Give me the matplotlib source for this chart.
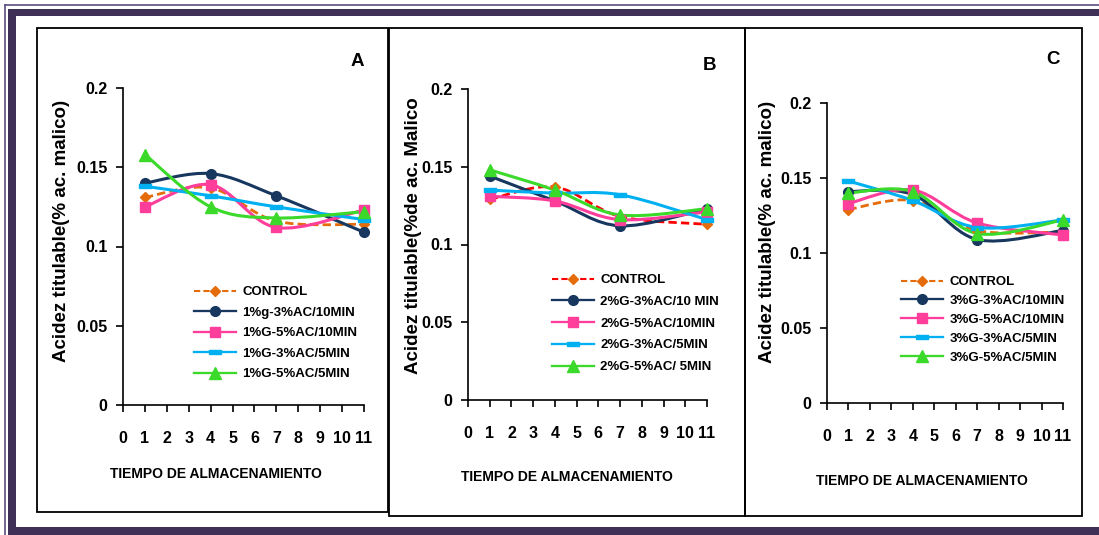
import matplotlib
matplotlib.use("Agg")
import matplotlib.pyplot as plt
from matplotlib.path import Path
from matplotlib.patches import PathPatch, Rectangle
from matplotlib.lines import Line2D

# storage days
dias = [1, 4, 7, 11]

# panel A - 1% G
a_control = [0.131, 0.137, 0.116, 0.114]
a_3ac_10 = [0.140, 0.146, 0.132, 0.109]
a_5ac_10 = [0.125, 0.139, 0.112, 0.123]
a_3ac_5 = [0.138, 0.132, 0.125, 0.117]
a_5ac_5 = [0.158, 0.125, 0.118, 0.122]

# panel B - 2% G
b_control = [0.129, 0.137, 0.118, 0.113]
b_3ac_10 = [0.144, 0.128, 0.112, 0.123]
b_5ac_10 = [0.131, 0.128, 0.116, 0.121]
b_3ac_5 = [0.135, 0.133, 0.132, 0.116]
b_5ac_5 = [0.148, 0.135, 0.119, 0.123]

# panel C - 3% G
c_control = [0.129, 0.135, 0.115, 0.114]
c_3ac_10 = [0.141, 0.139, 0.109, 0.115]
c_5ac_10 = [0.133, 0.142, 0.120, 0.112]
c_3ac_5 = [0.148, 0.135, 0.117, 0.122]
c_5ac_5 = [0.140, 0.141, 0.113, 0.122]

a_labels = ["CONTROL", "1%g-3%AC/10MIN", "1%G-5%AC/10MIN", "1%G-3%AC/5MIN", "1%G-5%AC/5MIN"]
b_labels = ["CONTROL", "2%G-3%AC/10 MIN", "2%G-5%AC/10MIN", "2%G-3%AC/5MIN", "2%G-5%AC/ 5MIN"]
c_labels = ["CONTROL", "3%G-3%AC/10MIN", "3%G-5%AC/10MIN", "3%G-3%AC/5MIN", "3%G-5%AC/5MIN"]

W, H = 1099, 535
FONT = "Liberation Sans"

ORANGE = "#e46c0a"
NAVY = "#17375e"
PINK = "#ff3d9a"
SKY = "#00b0f0"
GREEN = "#3ad92a"

dash_marker = [(-1, -0.3), (1, -0.3), (1, 0.3), (-1, 0.3), (-1, -0.3)]


def smooth_path(x, y):
    # bezier through the points, catmull-rom style (spreadsheet smoothed lines)
    pts = list(zip(x, y))
    verts = [pts[0]]
    codes = [Path.MOVETO]
    n = len(pts)
    for i in range(n - 1):
        p0 = pts[i - 1] if i > 0 else pts[i]
        p1 = pts[i]
        p2 = pts[i + 1]
        p3 = pts[i + 2] if i + 2 < n else pts[i + 1]
        c1 = (p1[0] + (p2[0] - p0[0]) / 6, p1[1] + (p2[1] - p0[1]) / 6)
        c2 = (p2[0] - (p3[0] - p1[0]) / 6, p2[1] - (p3[1] - p1[1]) / 6)
        verts += [c1, c2, p2]
        codes += [Path.CURVE4] * 3
    return Path(verts, codes)


def px_axes(fig, x0, x1, y0, y1):
    return fig.add_axes([x0 / W, 1 - y1 / H, (x1 - x0) / W, (y1 - y0) / H])


def panel(fig, box, series, labels, control_line, leg, spacing):
    ax = px_axes(fig, *box)
    styles = [
        dict(color=control_line, ls=(0, (3, 1.5)), lw=2.0, marker="D", ms=5.5, mc=ORANGE),
        dict(color=NAVY, ls="-", lw=2.2, marker="o", ms=7, mc=NAVY),
        dict(color=PINK, ls="-", lw=2.2, marker="s", ms=7, mc=PINK),
        dict(color=SKY, ls="-", lw=2.2, marker=dash_marker, ms=8, mc=SKY),
        dict(color=GREEN, ls="-", lw=2.2, marker="^", ms=8, mc=GREEN),
    ]
    handles = []
    for vals, st in zip(series, styles):
        ax.add_patch(PathPatch(smooth_path(dias, vals), fill=False, edgecolor=st["color"],
                               lw=st["lw"], linestyle=st["ls"], clip_on=False, capstyle="butt"))
        ax.plot(dias, vals, ls="none", marker=st["marker"], ms=st["ms"], color=st["mc"],
                mec=st["mc"], clip_on=False)
        handles.append(Line2D([], [], color=st["color"], ls=st["ls"], lw=st["lw"] * 0.75,
                              marker=st["marker"], ms=st["ms"], mfc=st["mc"], mec=st["mc"]))

    ax.set_xlim(0, 11)
    ax.set_ylim(0, 0.2)
    ax.set_xticks(range(12))
    ax.set_yticks([0, 0.05, 0.1, 0.15, 0.2])
    ax.set_yticklabels(["0", "0.05", "0.1", "0.15", "0.2"])
    for s in ["top", "right"]:
        ax.spines[s].set_visible(False)
    for s in ["left", "bottom"]:
        ax.spines[s].set_linewidth(1.2)
    ax.tick_params(axis="both", direction="out", length=5, width=1.2)
    ax.tick_params(axis="x", pad=14)
    ax.tick_params(axis="y", pad=6)
    for t in ax.get_xticklabels() + ax.get_yticklabels():
        t.set_fontfamily(FONT)
        t.set_fontweight("bold")
        t.set_fontsize(11.5)
    ax.patch.set_alpha(0)

    lx, ly = leg
    ax.legend(handles, labels, loc="upper left",
              bbox_to_anchor=(lx / W, 1 - ly / H), bbox_transform=fig.transFigure,
              frameon=False, handlelength=3.2, handletextpad=0.45, labelspacing=spacing,
              borderpad=0, borderaxespad=0,
              prop=dict(family=FONT, weight="bold", size=9.5))
    return ax


fig = plt.figure(figsize=(W / 100, H / 100), dpi=100)

# page frame and panel boxes drawn in pixel coordinates
bg = fig.add_axes([0, 0, 1, 1])
bg.set_xlim(0, W)
bg.set_ylim(H, 0)
bg.axis("off")
bg.set_zorder(-1)
FRAME = "#3f3058"
bg.add_patch(Rectangle((8, 9), 8, H - 9, color=FRAME, lw=0))
bg.add_patch(Rectangle((8, 9), W - 8, 7, color=FRAME, lw=0))
bg.add_patch(Rectangle((8, 527), W - 8, 8, color=FRAME, lw=0))
bg.plot([5, 5], [5, H], color="#5c4d7a", lw=1.2)
bg.plot([5, W], [5, 5], color="#5c4d7a", lw=1.2)
for x0, x1, y1 in [(37, 388, 512), (389, 745, 516), (745, 1082, 516)]:
    bg.add_patch(Rectangle((x0, 28), x1 - x0, y1 - 28, fill=False, ec="black", lw=1.3))

panel(fig, (123, 364, 88, 405),
      [a_control, a_3ac_10, a_5ac_10, a_3ac_5, a_5ac_5], a_labels, ORANGE, (194, 286), 0.63)
panel(fig, (468, 707, 89, 400),
      [b_control, b_3ac_10, b_5ac_10, b_3ac_5, b_5ac_5], b_labels, "#ff0000", (552, 274), 0.72)
panel(fig, (827, 1063, 103, 403),
      [c_control, c_3ac_10, c_5ac_10, c_3ac_5, c_5ac_5], c_labels, ORANGE, (901, 276), 0.50)

# axis titles and panel letters
for (x, y), lab in [((62, 231), "Acidez titulable(% ac. malico)"),
                    ((413, 236), "Acidez titulable(%de ac. Malico"),
                    ((768, 232), "Acidez titulable(% ac. malico)")]:
    bg.text(x, y, lab, rotation=90, ha="center", va="center", family=FONT,
            fontsize=13.5, fontweight="bold")
for (x, y) in [(216, 474), (567, 477), (922, 481)]:
    bg.text(x, y, "TIEMPO DE ALMACENAMIENTO", ha="center", va="center", family=FONT,
            fontsize=10, fontweight="bold")
for (x, y), let in [((357, 61), "A"), ((710, 65), "B"), ((1053, 60), "C")]:
    bg.text(x, y, let, ha="center", va="center", family=FONT, fontsize=13.5,
            fontweight="bold")

fig.savefig("out.png", dpi=100)
